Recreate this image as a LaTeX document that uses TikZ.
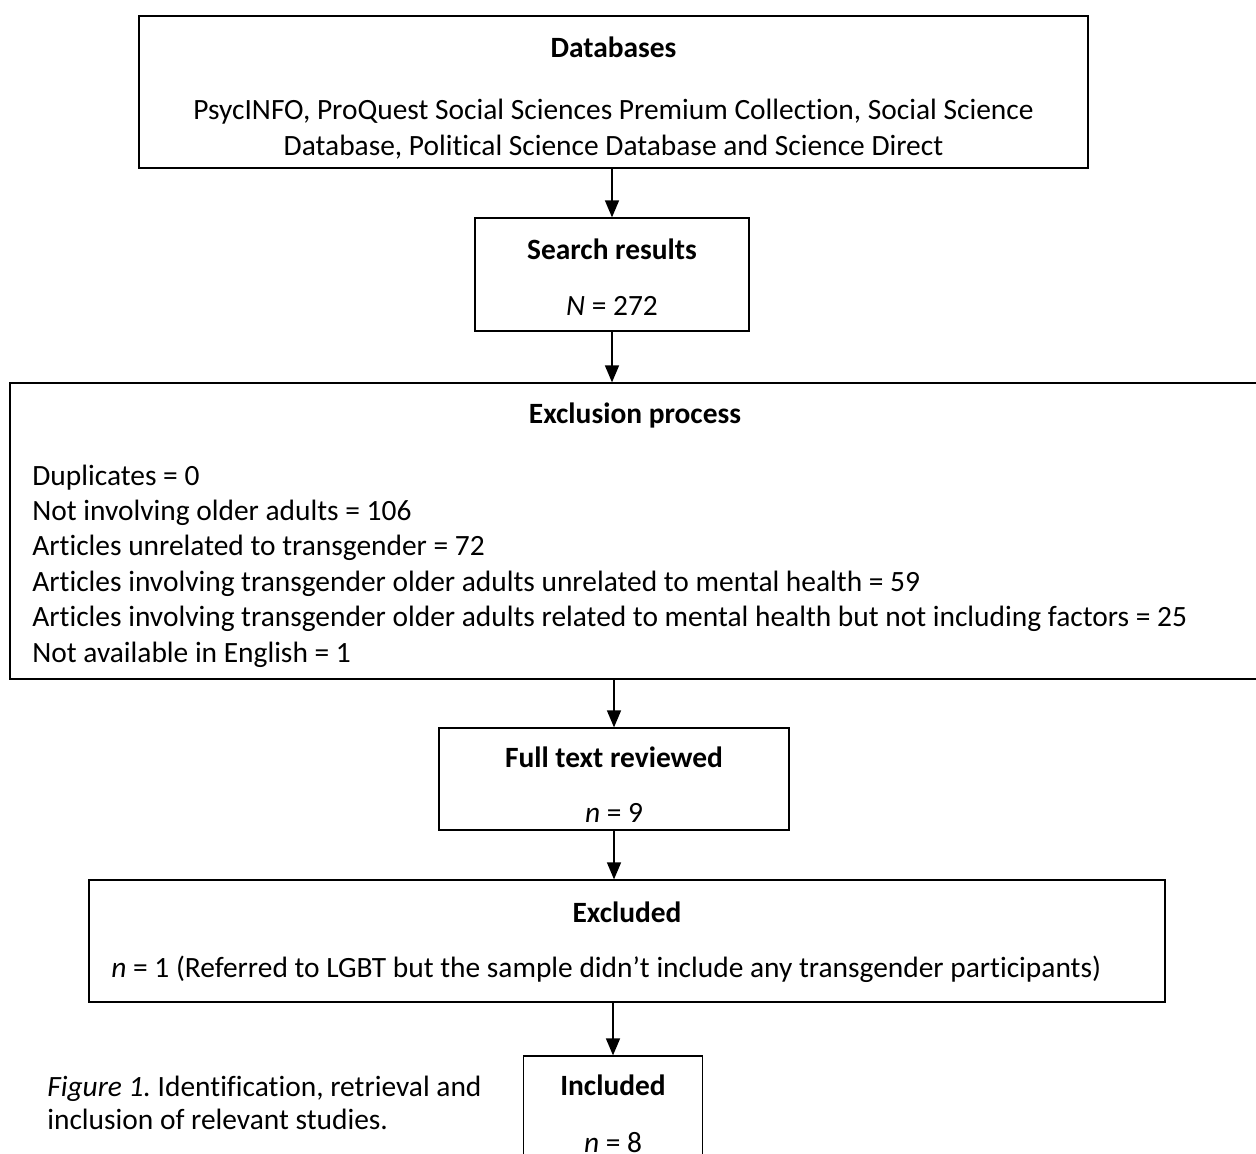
\documentclass[tikz,border=0pt]{standalone}
\usepackage{fontspec}
\setmainfont{Carlito}[Ligatures={NoCommon}]
\usetikzlibrary{arrows.meta,positioning}
\frenchspacing

\begin{document}
\begin{tikzpicture}[
    x=0.02cm, y=-0.02cm,
    every node/.style={font=\fontsize{16.75}{20.1}\selectfont, inner sep=0pt},
    box/.style={draw, line width=0.75pt, inner sep=0pt},
    head/.style={anchor=base, font=\fontsize{16.75}{20.1}\selectfont\bfseries},
    txt/.style={anchor=base, align=center},
    arrow/.style={-{Triangle[length=0.34cm, width=0.28cm]}, line width=0.85pt}
  ]
  \clip (0,0) rectangle (1256,1153);
  \fill[white] (0,0) rectangle (1256,1153);

  % boxes
  \node[box, minimum width=18.98cm, minimum height=3.04cm] (db) at (613.5,92) {};
  \node[box, minimum width=5.48cm, minimum height=2.26cm] (search) at (612,274.5) {};
  \node[box, minimum width=25.04cm, minimum height=5.92cm] (excl) at (636,531) {};
  \node[box, minimum width=7cm, minimum height=2.04cm] (full) at (614,779) {};
  \node[box, minimum width=21.52cm, minimum height=2.44cm] (excluded) at (627,941) {};
  \node[box, minimum width=3.58cm, minimum height=2.4cm] (incl) at (613,1116) {};

  % texts
  \node[head] (dbhead) at (613.5,57) {Databases};
  \node[txt] (dblist) at (613.5,155) {PsycINFO, ProQuest Social Sciences Premium Collection, Social Science\\Database, Political Science Database and Science Direct};
  \node[head] (searchhead) at (612,259) {Search results};
  \node[txt] (searchn) at (612,315) {\textit{N} = 272};
  \node[head] (exclhead) at (635,423) {Exclusion process};
  \foreach \line [count=\i] in {Duplicates = 0, Not involving older adults = 106,
      Articles unrelated to transgender = 72,
      Articles involving transgender older adults unrelated to mental health = 59,
      Articles involving transgender older adults related to mental health but not including factors = 25,
      Not available in English = 1}
    \node[anchor=base west] (reason\i) at (32,{485+35.4*(\i-1)}) {\line};
  \node[head] (fullhead) at (614,767) {Full text reviewed};
  \node[txt] (fulln) at (614,822) {\textit{n} = 9};
  \node[head] (excludedhead) at (627,922) {Excluded};
  \node[anchor=base west] (excludedn) at (111,977) {\textit{n} = 1 (Referred to LGBT but the sample didn’t include any transgender participants)};
  \node[head] (inclhead) at (613,1095) {Included};
  \node[txt] (incln) at (613,1152) {\textit{n} = 8};
  \node[anchor=base west, align=left, font=\fontsize{16.75}{18.7}\selectfont] (caption) at (47,1129) {\textit{Figure 1.} Identification, retrieval and\\inclusion of relevant studies.};

  % connectors
  \draw[arrow] (db.south -| search.north) -- (search.north);
  \draw[arrow] (search.south) -- (search.south |- excl.north);
  \draw[arrow] (excl.south -| full.north) -- (full.north);
  \draw[arrow] (full.south) -- (full.south |- excluded.north);
  \draw[arrow] (excluded.south -| incl.north) -- (incl.north);
\end{tikzpicture}
\end{document}
